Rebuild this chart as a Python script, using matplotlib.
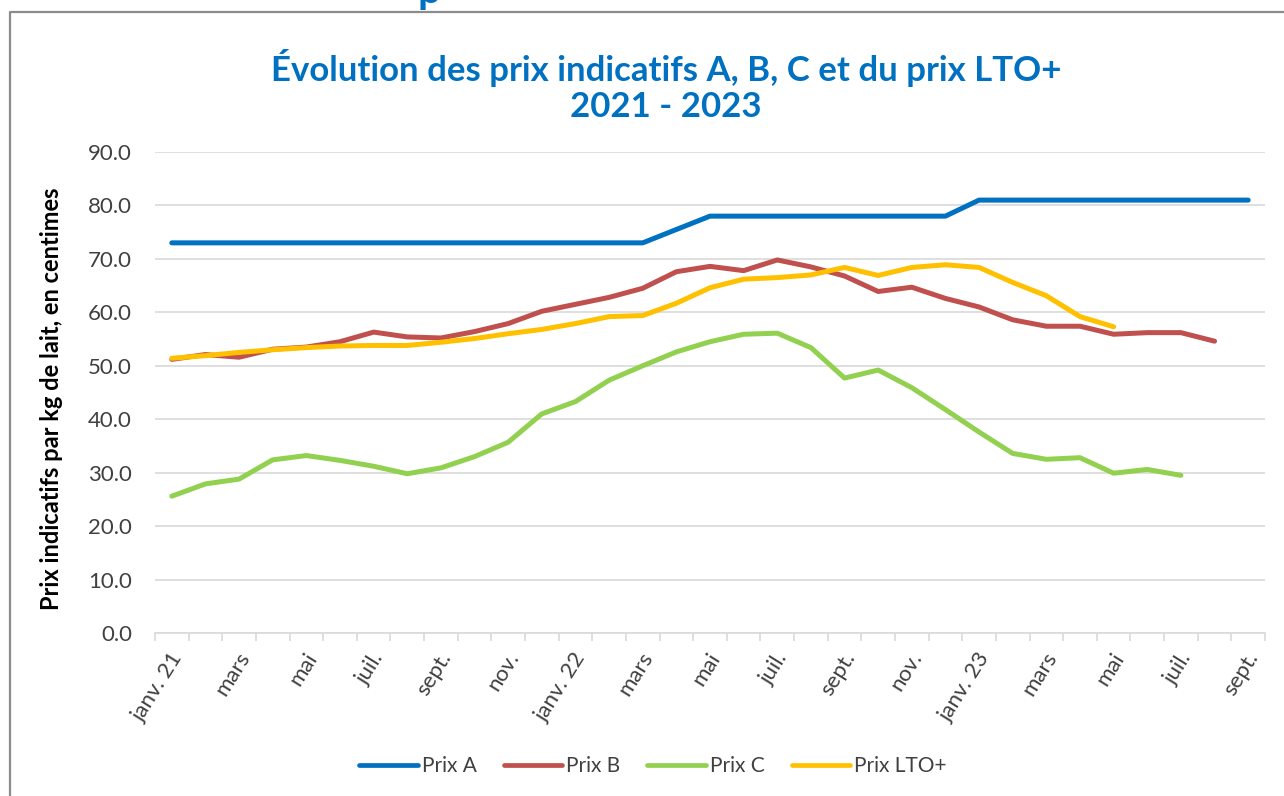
import numpy as np
import matplotlib
matplotlib.use("Agg")
import matplotlib.pyplot as plt
import matplotlib.transforms as mtransforms
from matplotlib.lines import Line2D

plt.rcParams['font.family'] = ['Lato', 'DejaVu Sans']

# monthly values, janv. 2021 -> sept. 2023 (33 months)
tick_labels = ["janv. 21", "mars", "mai", "juil.", "sept.", "nov.",
               "janv. 22", "mars", "mai", "juil.", "sept.", "nov.",
               "janv. 23", "mars", "mai", "juil.", "sept."]

prix_a = [73.0] * 15 + [75.5] + [78.0] * 8 + [81.0] * 9

prix_b = [51.2, 52.1, 51.6, 53.1, 53.5, 54.5, 56.3, 55.4, 55.2, 56.4, 57.9,
          60.2, 61.5, 62.8, 64.5, 67.6, 68.6, 67.8, 69.8, 68.5, 66.8, 63.9,
          64.7, 62.6, 61.0, 58.6, 57.4, 57.4, 55.9, 56.2, 56.2, 54.6]

prix_c = [25.6, 27.9, 28.8, 32.4, 33.2, 32.3, 31.2, 29.8, 30.9, 33.0, 35.7,
          41.0, 43.3, 47.3, 50.0, 52.6, 54.5, 55.9, 56.1, 53.4, 47.7, 49.2,
          45.9, 41.8, 37.6, 33.6, 32.5, 32.8, 29.9, 30.6, 29.5]

prix_lto = [51.4, 51.9, 52.5, 53.0, 53.4, 53.7, 53.8, 53.8, 54.4, 55.1, 56.0,
            56.8, 57.9, 59.2, 59.4, 61.7, 64.6, 66.2, 66.5, 67.0, 68.4, 66.9,
            68.4, 68.9, 68.4, 65.6, 63.1, 59.2, 57.3]

series = [("Prix A", prix_a, "#0070C0"),
          ("Prix B", prix_b, "#C0504D"),
          ("Prix C", prix_c, "#92D050"),
          ("Prix LTO+", prix_lto, "#FFC000")]

n = len(prix_a)

fig = plt.figure(figsize=(12.84, 7.96), dpi=100)
ax = fig.add_axes([155 / 1284, 1 - 633 / 796, 1110 / 1284, 481 / 796])

for name, vals, col in series:
    y = np.full(n, np.nan)
    y[:len(vals)] = vals
    ax.plot(np.arange(n), y, color=col, lw=3.6, label=name,
            solid_capstyle='round', solid_joinstyle='round', zorder=3)

ax.set_xlim(-0.5, n - 0.5)
ax.set_ylim(0, 90)
ax.set_yticks(np.arange(0, 91, 10))
ax.set_yticklabels([f"{v:.1f}" for v in np.arange(0, 91, 10)])
ax.grid(axis='y', color='#D9D9D9', lw=1.2, zorder=0)

ax.set_xticks(np.arange(0, n, 2))
ax.set_xticklabels(tick_labels, rotation=58, ha='right', va='center',
                   rotation_mode='anchor')
ax.set_xticks(np.arange(-0.5, n, 1), minor=True)
ax.tick_params(axis='x', which='major', length=0, pad=15, labelsize=16,
               labelcolor='#404040')
ax.tick_params(axis='x', which='minor', length=6, width=1.2, color='#D9D9D9')
ax.tick_params(axis='y', length=0, pad=16.5, labelsize=16, labelcolor='#404040')

shift = mtransforms.ScaledTranslation(6 / 100, 0, fig.dpi_scale_trans)
for lab in ax.get_xticklabels():
    lab.set_transform(lab.get_transform() + shift)

for s in ['top', 'right', 'left']:
    ax.spines[s].set_visible(False)
ax.spines['bottom'].set_color('#D9D9D9')
ax.spines['bottom'].set_linewidth(1.2)

fig.text(666 / 1284, 1 - 86 / 796,
         "Évolution des prix indicatifs A, B, C et du prix LTO+\n2021 - 2023",
         ha='center', va='center', fontsize=25, fontweight='bold',
         color='#0070C0', linespacing=1.15)

fig.text(52 / 1284, 1 - 399 / 796, "Prix indicatifs par kg de lait, en centimes",
         rotation=90, ha='center', va='center', fontsize=17, fontweight='bold',
         color='black')

# bit of a heading cut off at the top of the crop
fig.text(418 / 1284, 1 - 3 / 796, "p", ha='left', va='baseline', fontsize=30,
         fontweight='bold', color='#0070C0')

handles = [Line2D([], [], color=c, lw=3.4, solid_capstyle='round')
           for _, _, c in series]
fig.legend(handles, [s[0] for s in series], loc='center',
           bbox_to_anchor=(653 / 1284, 1 - 766 / 796), ncol=4, frameon=False,
           fontsize=15, handlelength=2.8, handletextpad=0.2,
           columnspacing=1.3, labelcolor='#404040')

# outer chart frame (left and top edges visible in the crop)
fig.add_artist(Line2D([10 / 1284, 10 / 1284, 1.0], [0.0, 1 - 12 / 796, 1 - 12 / 796],
                      transform=fig.transFigure, color='#8C8C8C', lw=1.6))

fig.savefig("out.png", dpi=100)
